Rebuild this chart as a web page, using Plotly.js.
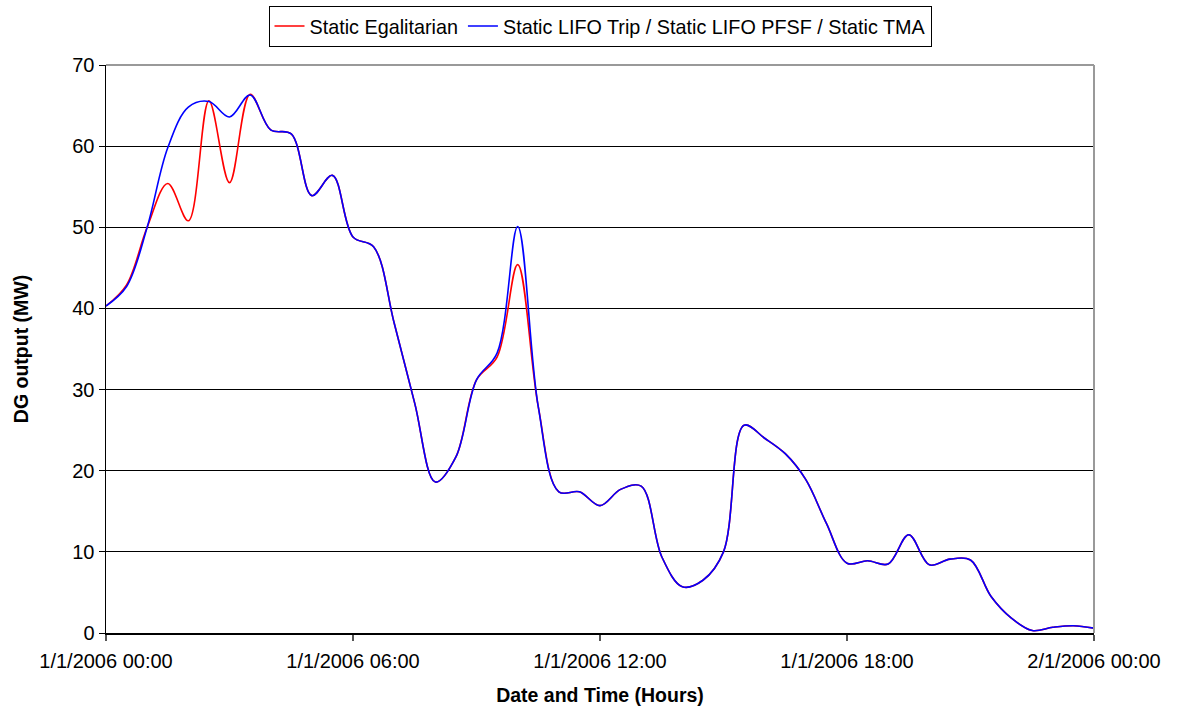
<!DOCTYPE html>
<html>
<head>
<meta charset="utf-8">
<script src="https://cdn.plot.ly/plotly-3.0.1.min.js"></script>
<style>
html,body{margin:0;padding:0;background:#fff;}
#chart{width:1177px;height:709px;}
</style>
</head>
<body>
<div id="chart"></div>
<script>
// Hours since 1/1/2006 00:00 (half-hourly)
const hours = [0,0.5,1,1.5,2,2.5,3,3.5,4,4.5,5,5.5,6,6.5,7,7.5,8,8.5,9,9.5,10,10.5,11,11.5,12,12.5,13,13.5,14,14.5,15,15.5,16,16.5,17,17.5,18,18.5,19,19.5,20,20.5,21,21.5,22,22.5,23,23.5,24];

const egalitarian = [40.3,42.9,50.0,55.4,50.8,65.6,55.5,66.4,62.0,61.5,53.9,56.4,48.8,47.6,38.2,28.3,18.6,21.7,31.2,34.0,45.4,27.9,17.4,17.4,15.7,17.7,18.1,9.4,5.7,6.5,10.0,25.6,24.0,22.1,18.9,13.5,8.6,8.9,8.5,12.1,8.4,9.1,9.0,4.5,1.8,0.3,0.7,0.9,0.6];

const lifo = [40.3,42.7,50.0,59.8,64.8,65.5,63.6,66.3,62.0,61.5,53.9,56.4,48.8,47.6,38.2,28.3,18.6,21.7,31.2,34.5,50.1,27.9,17.4,17.4,15.7,17.7,18.1,9.4,5.7,6.5,10.0,25.6,24.0,22.1,18.9,13.5,8.6,8.9,8.5,12.1,8.4,9.1,9.0,4.5,1.8,0.3,0.7,0.9,0.6];

const seriesNames = ["Static Egalitarian", "Static LIFO Trip / Static LIFO PFSF / Static TMA"];
const tickHours = [0,6,12,18,24];
const tickLabels = ["1/1/2006 00:00","1/1/2006 06:00","1/1/2006 12:00","1/1/2006 18:00","2/1/2006 00:00"];
const yTicks = [0,10,20,30,40,50,60,70];

const FONT = "Liberation Sans, Arial, Helvetica, sans-serif";

const traces = [
  {x: hours, y: egalitarian, name: seriesNames[0], type: "scatter", mode: "lines",
   line: {color: "#ff0000", width: 1.6, shape: "spline", smoothing: 1}},
  {x: hours, y: lifo, name: seriesNames[1], type: "scatter", mode: "lines",
   line: {color: "#0000ff", width: 1.6, shape: "spline", smoothing: 1}}
];

const layout = {
  width: 1177, height: 709,
  margin: {l: 106, r: 83, t: 65, b: 76, autoexpand: false},
  paper_bgcolor: "#ffffff", plot_bgcolor: "#ffffff",
  font: {family: FONT, color: "#000", size: 19},
  showlegend: true,
  legend: {orientation: "h", x: 0.5, xanchor: "center", xref: "paper",
    y: 0.992, yanchor: "top", yref: "container",
    bordercolor: "#000", borderwidth: 1, bgcolor: "#fff",
    font: {family: FONT, size: 19.8, color: "#000"},
    itemwidth: 30, tracegroupgap: 0},
  xaxis: {range: [0, 24], tickmode: "array", tickvals: tickHours, ticktext: tickLabels,
    showgrid: false, zeroline: false, showline: true, linecolor: "#000", linewidth: 1.5,
    ticks: "outside", ticklen: 6, tickcolor: "#555", tickwidth: 1.5,
    ticklabelstandoff: 3,
    tickfont: {family: FONT, size: 20, color: "#000"},
    title: {text: "<b>Date and Time (Hours)</b>", font: {family: FONT, size: 19.5, color: "#000"}, standoff: 18}},
  yaxis: {range: [0, 70], tickmode: "array", tickvals: yTicks,
    showgrid: true, gridcolor: "#000", gridwidth: 1, zeroline: false,
    showline: true, linecolor: "#000", linewidth: 1.5,
    ticks: "outside", ticklen: 6, tickcolor: "#000", tickwidth: 1,
    tickfont: {family: FONT, size: 20, color: "#000"},
    title: {text: "<b>DG output (MW)</b>", font: {family: FONT, size: 19.5, color: "#000"}, standoff: 38}},
  shapes: [
    {type: "line", xref: "paper", yref: "paper", x0: 0, x1: 1, y0: 1, y1: 1, line: {color: "#999", width: 2}, layer: "above"},
    {type: "line", xref: "paper", yref: "paper", x0: 1, x1: 1, y0: 0, y1: 1, line: {color: "#999", width: 2}, layer: "above"}
  ]
};

Plotly.newPlot("chart", traces, layout, {displayModeBar: false, staticPlot: true});
</script>
</body>
</html>
